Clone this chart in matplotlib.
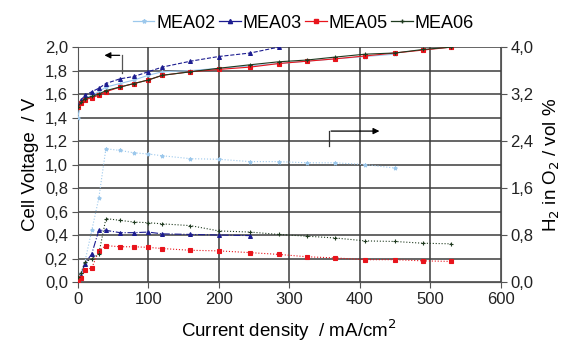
import matplotlib

matplotlib.use("Agg")
import matplotlib.pyplot as plt
from matplotlib.lines import Line2D
from matplotlib.ticker import FuncFormatter, MultipleLocator

plt.rcParams.update({"font.family": ["Liberation Sans", "DejaVu Sans"], "font.size": 11})

# current density (mA/cm2), shared by all series
current = [0, 5, 10, 20, 30, 40, 60, 80, 100, 120, 160, 200, 245, 285, 325, 365, 408, 450, 490, 530]

# cell voltage / V
v_mea02 = [1.40, 1.53, 1.56, 1.59, 1.62, 1.66, 1.69, 1.72, 1.76, 1.79, 1.80, 1.82, 1.84, 1.86, 1.88, 1.90, 1.92, 1.94]
v_mea03 = [1.50, 1.55, 1.59, 1.62, 1.65, 1.69, 1.73, 1.75, 1.79, 1.83, 1.88, 1.92, 1.95, 2.00]
v_mea05 = [1.49, 1.52, 1.55, 1.57, 1.59, 1.62, 1.66, 1.69, 1.72, 1.76, 1.79, 1.81, 1.83, 1.86, 1.88, 1.90, 1.925, 1.95, 1.975, 2.00]
v_mea06 = [1.49, 1.53, 1.56, 1.58, 1.60, 1.63, 1.66, 1.69, 1.72, 1.76, 1.79, 1.82, 1.85, 1.875, 1.89, 1.915, 1.94, 1.95, 1.98, 2.00]

# H2 in O2 / vol %
h_mea02 = [0.05, 0.16, 0.33, 0.88, 1.43, 2.27, 2.24, 2.20, 2.18, 2.15, 2.10, 2.09, 2.05, 2.05, 2.03, 2.03, 2.00, 1.94]
h_mea03 = [0.06, 0.11, 0.31, 0.48, 0.88, 0.88, 0.84, 0.84, 0.85, 0.82, 0.81, 0.80, 0.79]
h_mea05 = [0.03, 0.06, 0.20, 0.24, 0.53, 0.62, 0.60, 0.60, 0.59, 0.57, 0.54, 0.53, 0.50, 0.47, 0.43, 0.41, 0.38, 0.38, 0.36, 0.35]
h_mea06 = [0.08, 0.16, 0.34, 0.39, 0.48, 1.08, 1.05, 1.02, 1.01, 0.99, 0.96, 0.87, 0.85, 0.81, 0.78, 0.75, 0.70, 0.69, 0.66, 0.65]

names = ["MEA02", "MEA03", "MEA05", "MEA06"]
colors = ["#9cc8ec", "#1c1c90", "#e8141c", "#1f3a1f"]
markers = ["*", "^", "s", "+"]
volts = [v_mea02, v_mea03, v_mea05, v_mea06]
h2s = [h_mea02, h_mea03, h_mea05, h_mea06]

comma = FuncFormatter(lambda v, _: f"{v:.1f}".replace(".", ","))

fig = plt.figure(figsize=(5.67, 3.49), dpi=100)
ax = fig.add_axes([0.137, 0.192, 0.746, 0.673])
ax2 = ax.twinx()

for name, c, m, v, h in zip(names, colors, markers, volts, h2s):
    ls = "--" if name == "MEA03" else "-"
    hls = "-." if name == "MEA03" else ":"
    ax.plot(current[:len(v)], v, color=c, lw=0.8, ls=ls, marker=m, ms=2.8, mew=0.8, zorder=3)
    ax2.plot(current[:len(h)], h, color=c, lw=0.8, ls=hls, marker=m, ms=2.8, mew=0.8, zorder=3)

ax.set_xlim(0, 600)
ax.set_ylim(0, 2.0)
ax2.set_ylim(0, 4.0)
ax.xaxis.set_major_locator(MultipleLocator(100))
ax.yaxis.set_major_locator(MultipleLocator(0.2))
ax2.yaxis.set_major_locator(MultipleLocator(0.8))
ax.yaxis.set_major_formatter(comma)
ax2.yaxis.set_major_formatter(comma)
ax.grid(True, color="#3c3c3c", lw=1.1)
ax.set_axisbelow(True)
for a in (ax, ax2):
    a.tick_params(length=4, width=0.8, labelsize=12, pad=3, color="#555555", labelcolor="#222222")
    a.spines["top"].set_visible(False)
    for s in ("left", "right", "bottom"):
        a.spines[s].set_color("#555555")
ax.spines["right"].set_visible(False)
ax2.spines["left"].set_visible(False)

ax.set_xlabel("Current density  / mA/cm$^2$", fontsize=13.5, labelpad=8)
ax.set_ylabel("Cell Voltage  / V", fontsize=13.5, labelpad=4)
ax2.set_ylabel("H$_2$ in O$_2$ / vol %", fontsize=13.5, labelpad=6)

# direction arrows
ax.plot([63, 63], [1.78, 1.93], color="#555555", lw=0.9)
ax.annotate("", xy=(34, 1.93), xytext=(63.5, 1.93),
            arrowprops=dict(arrowstyle="-|>", color="black", lw=0.9, mutation_scale=9))
ax.plot([356, 356], [1.16, 1.285], color="#333333", lw=0.9)
ax.annotate("", xy=(432, 1.285), xytext=(355.5, 1.285),
            arrowprops=dict(arrowstyle="-|>", color="black", lw=0.9, mutation_scale=9))

handles = [Line2D([], [], color=c, marker=m, ms=3, lw=0.9) for c, m in zip(colors, markers)]
fig.legend(handles, names, loc="upper center", bbox_to_anchor=(0.535, 1.005), ncol=4, frameon=False,
           fontsize=13, handlelength=1.2, handletextpad=0.1, columnspacing=0.2)

fig.savefig("out.png", dpi=100)
